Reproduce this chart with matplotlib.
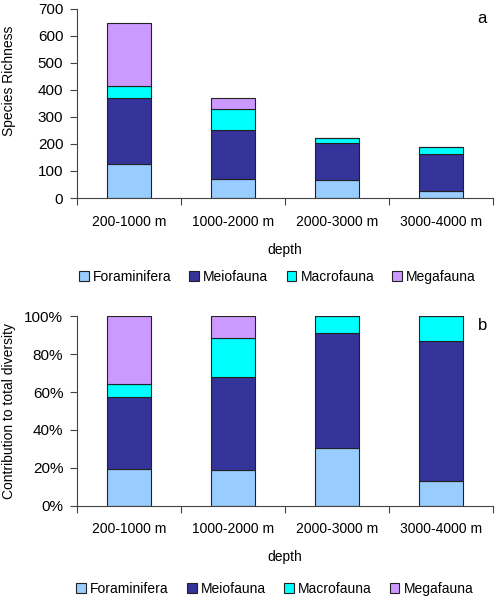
import numpy as np
import pandas as pd
import matplotlib.pyplot as plt
from matplotlib.ticker import PercentFormatter

plt.rcParams['font.family'] = ['Liberation Sans', 'DejaVu Sans']
plt.rcParams['font.size'] = 10

depths = ['200-1000 m', '1000-2000 m', '2000-3000 m', '3000-4000 m']
groups = ['Foraminifera', 'Meiofauna', 'Macrofauna', 'Megafauna']
foraminifera = [127, 70, 68, 25]
meiofauna = [244, 183, 136, 139]
macrofauna = [43, 75, 20, 25]
megafauna = [233, 43, 0, 0]
colors = ['#99CCFF', '#333399', '#00FFFF', '#CC99FF']

df = pd.DataFrame({'Foraminifera': foraminifera, 'Meiofauna': meiofauna,
                   'Macrofauna': macrofauna, 'Megafauna': megafauna}, index=depths)
pct = df.div(df.sum(axis=1), axis=0) * 100

fig = plt.figure(figsize=(4.98, 6.0), dpi=100)
ax1 = fig.add_axes([0.155, 0.67, 0.835, 0.315])
ax2 = fig.add_axes([0.155, 0.157, 0.835, 0.316])


def stacked(ax, data, ylim, yticks, letter):
    x = np.arange(len(depths))
    bottom = np.zeros(len(depths))
    handles = []
    for g, c in zip(groups, colors):
        h = ax.bar(x, data[g].values, 0.42, bottom=bottom, color=c,
                   edgecolor='#222222', linewidth=0.8, label=g)
        handles.append(h)
        bottom += data[g].values
    ax.set_xlim(-0.5, 3.5)
    ax.set_ylim(*ylim)
    ax.set_yticks(yticks)
    ax.set_xticks(np.arange(-0.5, 4.0, 1.0))
    ax.set_xticklabels([])
    ax.set_xticks(x, minor=True)
    ax.set_xticklabels(depths, minor=True)
    ax.tick_params(axis='x', which='minor', length=0, pad=12, labelsize=10)
    ax.tick_params(axis='x', which='major', length=5, direction='out', color='#444444')
    ax.tick_params(axis='y', length=5, direction='out', color='#444444', labelsize=11, pad=5)
    for s in ['top', 'right']:
        ax.spines[s].set_visible(False)
    for s in ['left', 'bottom']:
        ax.spines[s].set_color('#444444')
    ax.set_xlabel('depth', fontsize=10, labelpad=10)
    ax.text(0.985, 0.99, letter, transform=ax.transAxes, ha='right', va='top', fontsize=12)
    return handles


h1 = stacked(ax1, df, (0, 700), range(0, 701, 100), 'a')
ax1.set_ylabel('Species Richness', fontsize=10)
ax1.yaxis.set_label_coords(-0.148, 0.62)
fig.legend(h1, groups, loc='center', bbox_to_anchor=(0.557, 0.538), ncol=4, frameon=False,
           handlelength=0.7, handleheight=0.7, handletextpad=0.3, columnspacing=1.3, fontsize=10)

h2 = stacked(ax2, pct, (0, 100), range(0, 101, 20), 'b')
ax2.yaxis.set_major_formatter(PercentFormatter(decimals=0))
ax2.set_ylabel('Contribution to total diversity', fontsize=10)
ax2.yaxis.set_label_coords(-0.148, 0.5)
fig.legend(h2, groups, loc='center', bbox_to_anchor=(0.552, 0.018), ncol=4, frameon=False,
           handlelength=0.7, handleheight=0.7, handletextpad=0.3, columnspacing=1.3, fontsize=10)

fig.savefig('out.png', dpi=100)
